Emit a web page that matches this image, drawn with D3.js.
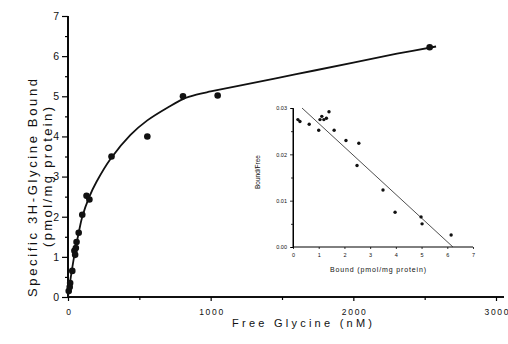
<!DOCTYPE html>
<html><head><meta charset="utf-8">
<script src="https://cdn.jsdelivr.net/npm/d3@7"></script>
<style>body{margin:0;background:#fff}svg{display:block}text{font-family:"Liberation Sans",Arial,sans-serif;fill:#111}</style>
</head><body><svg id="c" width="508" height="344"></svg>
<script>
// Main saturation data (free glycine nM, bound pmol/mg)
const freeGly = [5, 12, 15, 30, 45, 50, 55, 60, 75, 100, 130, 150, 305, 556, 806, 1049, 2535];
const bound   = [0.15, 0.25, 0.35, 0.65, 1.15, 1.05, 1.22, 1.37, 1.6, 2.05, 2.52, 2.43, 3.5, 4.0, 5.0, 5.02, 6.22];
// Fitted curve
const curveX = [0, 10, 25, 50, 75, 100, 150, 200, 300, 438, 556, 708, 806, 900, 1000, 1194, 1600, 2000, 2306, 2580];
const curveY = [0, 0.26, 0.62, 1.15, 1.6, 2.0, 2.5, 2.87, 3.45, 4.04, 4.4, 4.74, 4.93, 5.04, 5.12, 5.26, 5.55, 5.84, 6.06, 6.24];
const xTicks = [0, 1000, 2000, 3000];
const xMinor = [500, 1500, 2500];
const yTicks = [0, 1, 2, 3, 4, 5, 6, 7];
const yMinor = [0.5, 1.5, 2.5, 3.5, 4.5, 5.5, 6.5];
// Scatchard inset
const scBound = [0.19, 0.27, 0.63, 1.0, 1.05, 1.12, 1.2, 1.3, 1.4, 1.6, 2.06, 2.56, 2.49, 3.5, 3.97, 4.98, 5.02, 6.15];
const scBF    = [0.0275, 0.0271, 0.0265, 0.0252, 0.0275, 0.0282, 0.0275, 0.0278, 0.0292, 0.0252, 0.023, 0.0224, 0.0176, 0.0123, 0.0075, 0.0065, 0.005, 0.0026];
const scLineX = [0.35, 6.22];
const scLineY = [0.03, 0.0];
const insXTicks = [0, 1, 2, 3, 4, 5, 6, 7];
const insYTicks = [0, 0.01, 0.02, 0.03];
const insYMinor = [0.005, 0.015, 0.025];

const svg = d3.select("#c");
const x = d3.scaleLinear().domain([0, 3000]).range([68, 496]);
const y = d3.scaleLinear().domain([0, 7]).range([297, 16]);

// axes
const gx = svg.append("g").attr("transform", `translate(0,${y(0)})`);
gx.call(d3.axisBottom(x).tickValues(xTicks).tickSize(4).tickPadding(8).tickFormat(d3.format("d")));
gx.append("g").call(d3.axisBottom(x).tickValues(xMinor).tickSize(3).tickFormat(""));
gx.selectAll(".domain").attr("stroke-width", 1.6).attr("d", `M${x(0)},0H${x(3000) + 8}`);
gx.selectAll(".tick text").style("font-size", "8.5px")
  .each(function(d) { if (d > 0) d3.select(this).attr("textLength", 24).attr("lengthAdjust", "spacing"); });
const gy = svg.append("g").attr("transform", `translate(${x(0)},0)`);
gy.call(d3.axisLeft(y).tickValues(yTicks).tickSize(6).tickPadding(3).tickFormat(d3.format("d")));
gy.append("g").call(d3.axisLeft(y).tickValues(yMinor).tickSize(3).tickFormat(""));
gy.selectAll(".domain").attr("stroke-width", 1.6).attr("d", `M0,${y(0)}V${y(7)}`);
gy.selectAll("text").style("font-size", "10.5px");
svg.selectAll(".tick line").attr("stroke-width", 1.2);

// curve
const line = d3.line().x(d => x(d[0])).y(d => y(d[1])).curve(d3.curveCatmullRom.alpha(0.5));
svg.append("path").datum(curveX.map((v, i) => [v, curveY[i]]))
  .attr("d", line).attr("fill", "none").attr("stroke", "#111").attr("stroke-width", 1.8);
svg.append("g").selectAll("circle").data(freeGly).join("circle")
  .attr("cx", (d) => x(d)).attr("cy", (d, i) => y(bound[i])).attr("r", 3.3).attr("fill", "#111");

// titles
svg.append("text").attr("x", 302).attr("y", 327).attr("text-anchor", "middle")
  .attr("textLength", 140).attr("lengthAdjust", "spacing").style("font-size", "11px").text("Free Glycine (nM)");
svg.append("text").attr("transform", "translate(37,188) rotate(-90)").attr("text-anchor", "middle")
  .attr("textLength", 218).attr("lengthAdjust", "spacing").style("font-size", "13px").text("Specific 3H-Glycine Bound");
svg.append("text").attr("transform", "translate(52,177) rotate(-90)").attr("text-anchor", "middle")
  .attr("textLength", 140).attr("lengthAdjust", "spacing").style("font-size", "13px").text("(pmol/mg protein)");

// inset
const ix = d3.scaleLinear().domain([0, 7]).range([293, 473]);
const iy = d3.scaleLinear().domain([0, 0.03]).range([247, 108]);
const ig = svg.append("g");
const igx = ig.append("g").attr("transform", `translate(0,${iy(0)})`)
  .call(d3.axisBottom(ix).tickValues(insXTicks).tickSize(2).tickPadding(4).tickFormat(d3.format("d")));
igx.selectAll("text").style("font-size", "5.5px");
const igy = ig.append("g").attr("transform", `translate(${ix(0)},0)`)
  .call(d3.axisLeft(iy).tickValues(insYTicks).tickSize(3).tickPadding(3).tickFormat(d3.format(".2f")));
igy.append("g").call(d3.axisLeft(iy).tickValues(insYMinor).tickSize(2).tickFormat(""));
igy.selectAll("text").style("font-size", "5.5px");
ig.selectAll(".domain").attr("stroke-width", 1);
igx.select(".domain").attr("d", `M${ix(0)},0H${ix(7)}`);
igy.select(".domain").attr("d", `M0,${iy(0)}V${iy(0.03)}`);
ig.selectAll(".tick line").attr("stroke-width", 0.8);
ig.append("path").datum(scLineX.map((v, i) => [v, scLineY[i]]))
  .attr("d", d3.line().x(d => ix(d[0])).y(d => iy(d[1])))
  .attr("fill", "none").attr("stroke", "#222").attr("stroke-width", 0.8);
ig.append("g").selectAll("circle").data(scBound).join("circle")
  .attr("cx", d => ix(d)).attr("cy", (d, i) => iy(scBF[i])).attr("r", 1.7).attr("fill", "#111");
ig.append("text").attr("x", 378).attr("y", 272).attr("text-anchor", "middle")
  .attr("textLength", 96).attr("lengthAdjust", "spacing").style("font-size", "7px").text("Bound (pmol/mg protein)");
ig.append("text").attr("transform", "translate(260,172) rotate(-90)").attr("text-anchor", "middle")
  .style("font-size", "6.5px").text("Bound/Free");
</script></body></html>
